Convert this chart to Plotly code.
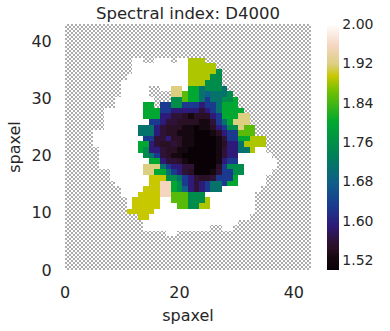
import plotly.graph_objs as go

FONT = "DejaVu Sans"
TEXT_COLOR = "#262626"
HATCH_COLOR = "#acacac"

# spaxel extent of the map and the ticks
MAP_SIZE = 43
xaxis_ticks = [0, 20, 40]
yaxis_ticks = [0, 10, 20, 30, 40]
colorbar_ticks = [1.52, 1.60, 1.68, 1.76, 1.84, 1.92, 2.00]
colorbar_ticklabels = ["1.52", "1.60", "1.68", "1.76", "1.84", "1.92", "2.00"]

# D4000 in a few levels, "." is a masked spaxel
levels = {
    "w": 2.00, "p": 1.955, "t": 1.918, "y": 1.894, "l": 1.885, "g": 1.85,
    "G": 1.80, "e": 1.755, "T": 1.71, "B": 1.678, "b": 1.63, "i": 1.589,
    "v": 1.56, "d": 1.545, "k": 1.525, "K": 1.503, ".": None,
}

# runs along each row, from row 37 down to row 6; the rest of the map is masked
top_row = 37
d4000_runs = [
    "12. 2w 2. 3w 1. 2w 3l 19.",
    "12. 10w 5l 17.",
    "12. 10w 5l 1e 16.",
    "11. 11w 4l 2e 16.",
    "10. 12w 3l 3e 16.",
    "10. 5w 2. 2w 2t 1w 2G 1T 3e 1T 15.",
    "10. 5w 4. 2t 1g 2G 1T 1B 3T 1e 14.",
    "9. 7w 3. 2e 1g 2G 1T 1b 2T 2e 1G 13.",
    "9. 5w 2G 1. 2b 2e 3b 1i 2b 1T 3G 13.",
    "7. 7w 3G 2b 5i 1v 1i 1b 1T 4G 12.",
    "7. 7w 3G 2i 2v 1d 1k 3d 1i 1b 3G 2t 11.",
    "7. 8w 2b 1i 2v 4d 2k 1v 1b 1T 1G 3t 11.",
    "7. 6w 3T 1i 1v 3d 2k 1K 2k 1d 1i 1b 2e 1t 2g 10.",
    "5. 8w 3T 1i 1v 2d 3k 3K 1k 1d 1i 2b 3g 10.",
    "5. 9w 2b 2v 1i 2d 2k 4K 1k 1v 2b 2G 3l 8.",
    "5. 8w 2G 1i 1v 2d 1v 1d 2k 4K 1k 1d 2i 1T 4l 8.",
    "6. 7w 1G 1e 2i 1v 2d 2k 5K 1k 1v 2i 2T 1l 2w 8.",
    "6. 8w 1e 1T 1b 1v 1d 2k 6K 1k 1v 2i 6w 7.",
    "6. 9w 2G 1i 2v 1d 1k 5K 1k 1i 2b 7w 6.",
    "6. 8w 3t 1T 1b 2i 2v 4K 1d 1b 3e 6w 6.",
    "8. 6w 2t 2G 1T 1b 1i 1v 1d 3K 1k 1v 2b 2e 5w 7.",
    "8. 7w 3y 2e 1T 1b 1i 1v 2d 1v 3b 1G 5w 8.",
    "9. 6w 2y 2p 1G 1e 1b 1i 1v 1i 1b 2T 1b 2G 5w 8.",
    "10. 4w 3y 2p 1G 1e 1B 1i 1v 1i 1b 2T 7w 9.",
    "10. 3w 4y 2p 3g 3e 9w 10.",
    "11. 1w 5y 2w 3g 3e 1l 8w 10.",
    "11. 1w 5y 3w 2g 2e 2l 8w 10.",
    "11. 5y 18w 10.",
    "13. 2y 18w 11.",
    "14. 17w 13.",
    "14. 12w 2. 2w 14.",
    "18. 2w 24.",
]

colorscale = [
    [0.0, "#080006"], [0.05, "#160810"], [0.09, "#2a1024"], [0.12, "#2e1238"],
    [0.178, "#2e1a78"], [0.26, "#1a3a90"], [0.356, "#0f5f88"], [0.466, "#008058"],
    [0.603, "#00a830"], [0.726, "#70c000"], [0.788, "#c8c800"], [0.836, "#dccf80"],
    [0.911, "#f5d5c0"], [1.0, "#ffffff"],
]


def _expand(runs):
    row = []
    for run in runs.split():
        row += [levels[run[-1]]] * int(run[:-1])
    return row


n_cells = 44
d4000 = [[None] * n_cells for _ in range(n_cells)]
for i, runs in enumerate(d4000_runs):
    d4000[top_row - i] = _expand(runs)
edges = [i * MAP_SIZE / n_cells for i in range(n_cells + 1)]

# checker texture for the masked background, 2 px squares
n_hatch = 123
hatch_edges = [i * MAP_SIZE / n_hatch for i in range(n_hatch + 1)]
hatch = [[(i + j) % 2 for j in range(n_hatch)] for i in range(n_hatch)]

tick_font = {"family": FONT, "size": 16, "color": TEXT_COLOR}

fig = go.Figure(
    data=[
        go.Heatmap(
            x=hatch_edges,
            y=hatch_edges,
            z=hatch,
            zmin=0,
            zmax=1,
            colorscale=[[0, "white"], [1, HATCH_COLOR]],
            showscale=False,
            hoverinfo="skip",
        ),
        go.Heatmap(
            x=edges,
            y=edges,
            z=d4000,
            zmin=1.5,
            zmax=2.0,
            colorscale=colorscale,
            hoverongaps=False,
            colorbar={
                "x": 1.065,
                "xanchor": "left",
                "y": 0,
                "yanchor": "bottom",
                "len": 1,
                "thickness": 12,
                "outlinewidth": 0,
                "ticks": "",
                "tickvals": colorbar_ticks,
                "ticktext": colorbar_ticklabels,
                "tickfont": {"family": FONT, "size": 14, "color": TEXT_COLOR},
                "xpad": 0,
                "ypad": 0,
            },
        ),
    ],
    layout={
        "width": 390,
        "height": 331,
        "autosize": False,
        "margin": {"l": 65, "r": 79, "t": 24, "b": 61, "autoexpand": False},
        "paper_bgcolor": "white",
        "plot_bgcolor": "white",
        "title": {
            "text": "Spectral index: D4000",
            "font": {"family": FONT, "size": 16.5, "color": TEXT_COLOR},
            "x": 188 / 390,
            "xanchor": "center",
            "y": 1 - 13 / 331,
            "yanchor": "middle",
        },
        "xaxis": {
            "range": [0, MAP_SIZE],
            "title": {
                "text": "spaxel",
                "font": {"family": FONT, "size": 16, "color": TEXT_COLOR},
                "standoff": 8,
            },
            "tickvals": xaxis_ticks,
            "tickfont": tick_font,
            "ticks": "outside",
            "ticklen": 8,
            "tickcolor": "white",
            "showgrid": False,
            "zeroline": False,
            "showline": False,
        },
        "yaxis": {
            "range": [0, MAP_SIZE],
            "title": {
                "text": "spaxel",
                "font": {"family": FONT, "size": 16, "color": TEXT_COLOR},
                "standoff": 6,
            },
            "tickvals": yaxis_ticks,
            "tickfont": tick_font,
            "ticks": "outside",
            "ticklen": 9,
            "tickcolor": "white",
            "showgrid": False,
            "zeroline": False,
            "showline": False,
        },
    },
)

# the page margin would push the figure off the 390x331 window
fig.write_html(
    "out.html",
    config={"displayModeBar": False},
    post_script="document.body.style.margin = '0';",
)
